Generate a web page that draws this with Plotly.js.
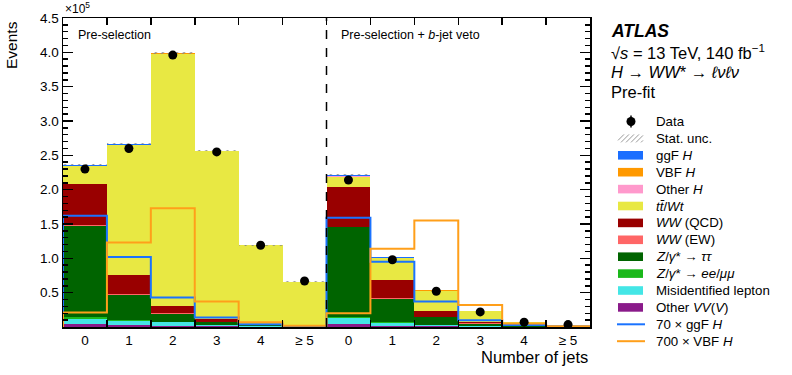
<!DOCTYPE html>
<html>
<head>
<meta charset="utf-8">
<script src="https://cdn.plot.ly/plotly-3.0.1.min.js"></script>
<style>
  body { margin: 0; background: #fff; }
  #grafico { width: 792px; height: 375px; }
</style>
</head>
<body>
<div id="grafico"></div>
<script>
// 12 bins: 0..>=5 jets (Pre-selection), then 0..>=5 jets (+ b-jet veto); values in units of 1e5
const binLabels = ["0", "1", "2", "3", "4", "≥ 5", "0", "1", "2", "3", "4", "≥ 5"];

const otherVV = [0.05, 0.03, 0.02, 0.01, 0.005, 0.002, 0.05, 0.02, 0.01, 0.005, 0.002, 0.001];
const misid   = [0.07, 0.06, 0.05, 0.02, 0.005, 0.002, 0.08, 0.045, 0.02, 0.01, 0.003, 0.001];
const zll     = [0.02, 0.01, 0.01, 0.005, 0.002, 0.001, 0.01, 0.005, 0.005, 0.002, 0.001, 0.0];
const ztt     = [1.33, 0.37, 0.11, 0.035, 0.01, 0.003, 1.31, 0.34, 0.105, 0.033, 0.007, 0.002];
const wwEW    = [0.01, 0.01, 0.01, 0.005, 0.002, 0.001, 0.01, 0.01, 0.005, 0.003, 0.001, 0.0];
const wwQCD   = [0.60, 0.28, 0.11, 0.035, 0.01, 0.004, 0.58, 0.265, 0.095, 0.027, 0.006, 0.002];
const topWt   = [0.26, 1.89, 3.67, 2.455, 1.155, 0.647, 0.15, 0.32, 0.29, 0.147, 0.049, 0.014];
const otherH  = [0.003, 0.003, 0.002, 0.001, 0.0003, 0.0001, 0.003, 0.002, 0.001, 0.0005, 0.0002, 0.0001];
const vbfH    = [0.0003, 0.0018, 0.0025, 0.0005, 0.0001, 0.0, 0.0003, 0.0016, 0.0022, 0.0005, 0.0001, 0.0];
const ggfH    = [0.023, 0.015, 0.006, 0.002, 0.0006, 0.0001, 0.023, 0.0136, 0.0053, 0.0014, 0.0004, 0.0001];
const statUnc = [0.006, 0.007, 0.009, 0.007, 0.005, 0.004, 0.006, 0.004, 0.003, 0.002, 0.001, 0.001];

const data    = [2.30, 2.60, 3.96, 2.55, 1.19, 0.67, 2.14, 0.98, 0.52, 0.22, 0.07, 0.035];
const dataErr = [0.005, 0.005, 0.006, 0.005, 0.003, 0.003, 0.005, 0.003, 0.002, 0.002, 0.001, 0.001];

const ggf70   = [1.62, 1.02, 0.43, 0.14, 0.04, 0.01, 1.59, 0.95, 0.37, 0.10, 0.03, 0.01];
const vbf700  = [0.21, 1.23, 1.73, 0.37, 0.07, 0.02, 0.20, 1.14, 1.55, 0.32, 0.05, 0.01];

// legend rows, top to bottom
const legendItems = [
    { name: "Data", kind: "data", color: "black" },
    { name: "Stat. unc.", kind: "hatch", color: "#999" },
    { name: "ggF <i>H</i>", kind: "box", color: "#1a6eff" },
    { name: "VBF <i>H</i>", kind: "box", color: "#ff9900" },
    { name: "Other <i>H</i>", kind: "box", color: "#ff99cc" },
    { name: "<i>tt̄</i>/<i>Wt</i>", kind: "box", color: "#e8e843" },
    { name: "<i>WW</i> (QCD)", kind: "box", color: "#990000" },
    { name: "<i>WW</i> (EW)", kind: "box", color: "#ff6666" },
    { name: "<i>Z</i>/<i>γ</i>* → <i>ττ</i>", kind: "box", color: "#006400" },
    { name: "<i>Z</i>/<i>γ</i>* → <i>ee</i>/<i>μμ</i>", kind: "box", color: "#1ab81a" },
    { name: "Misidentified lepton", kind: "box", color: "#44e6e6" },
    { name: "Other <i>VV</i>(<i>V</i>)", kind: "box", color: "#8a1a8a" },
    { name: "70 × ggF <i>H</i>", kind: "line", color: "#1a73ff" },
    { name: "700 × VBF <i>H</i>", kind: "line", color: "#ff9f1a" }
];
const colorOf = n => legendItems.find(it => it.name === n).color;

const xs = binLabels.map((_, i) => i);
const font = "Liberation Sans, Arial, sans-serif";

function stackBar(name, y) {
    return {
        type: "bar", x: xs, y: y, name: name,
        marker: { color: colorOf(name), line: { width: 0 } },
        hoverinfo: "skip"
    };
}

// step outline for a histogram: rises from 0 at the left edge, drops to 0 at the right edge
function stepLine(vals, name) {
    const x = [-0.5], y = [0];
    vals.forEach((v, i) => { x.push(i - 0.5); y.push(v); });
    x.push(vals.length - 0.5); y.push(vals[vals.length - 1]);
    x.push(vals.length - 0.5); y.push(0);
    return {
        type: "scatter", mode: "lines", x: x, y: y, name: name,
        line: { color: colorOf(name), width: 2, shape: "hv" }, hoverinfo: "skip"
    };
}

const totals = xs.map(i => otherVV[i] + misid[i] + zll[i] + ztt[i] + wwEW[i] + wwQCD[i] +
    topWt[i] + otherH[i] + vbfH[i] + ggfH[i]);

const traces = [
    stackBar("Other <i>VV</i>(<i>V</i>)", otherVV),
    stackBar("Misidentified lepton", misid),
    stackBar("<i>Z</i>/<i>γ</i>* → <i>ee</i>/<i>μμ</i>", zll),
    stackBar("<i>Z</i>/<i>γ</i>* → <i>ττ</i>", ztt),
    stackBar("<i>WW</i> (EW)", wwEW),
    stackBar("<i>WW</i> (QCD)", wwQCD),
    stackBar("<i>tt̄</i>/<i>Wt</i>", topWt),
    stackBar("Other <i>H</i>", otherH),
    stackBar("VBF <i>H</i>", vbfH),
    stackBar("ggF <i>H</i>", ggfH),
    {
        type: "bar", x: xs, y: statUnc.map(u => 2 * u), base: totals.map((t, i) => t - statUnc[i]),
        name: "Stat. unc.", hoverinfo: "skip",
        marker: { color: "rgba(0,0,0,0)", line: { width: 0 },
                  pattern: { shape: "/", fgcolor: "#888", bgcolor: "rgba(0,0,0,0)", size: 5, solidity: 0.25 } }
    },
    stepLine(ggf70, "70 × ggF <i>H</i>"),
    stepLine(vbf700, "700 × VBF <i>H</i>"),
    {
        type: "scatter", mode: "markers", x: xs, y: data, name: "Data",
        marker: { color: "black", size: 9 },
        error_y: { type: "data", array: dataErr, color: "black", thickness: 1.5, width: 0 },
        hoverinfo: "skip"
    }
];

// page pixel -> paper coords (plot area is 63..590 x 18..327)
const px = v => (v - 63) / 527;
const py = v => (327 - v) / 309;

const shapes = [
    { type: "line", xref: "x", yref: "paper", x0: 5.5, x1: 5.5, y0: 0, y1: 1,
      line: { color: "black", width: 1.5, dash: "dash" }, layer: "above" }
];
const annotations = [
    { xref: "paper", yref: "paper", x: 0, y: 1.0, xanchor: "left", yanchor: "bottom",
      text: "×10<sup>5</sup>", showarrow: false, font: { size: 12 } },
    { xref: "paper", yref: "paper", x: px(12), y: py(19), xanchor: "center", yanchor: "top",
      text: "Events", textangle: -90, showarrow: false, font: { size: 15.5 } },
    { xref: "paper", yref: "paper", x: 1.0, y: py(357), xanchor: "right", yanchor: "middle",
      text: "Number of jets", showarrow: false, font: { size: 16.5 } },
    { xref: "paper", yref: "paper", x: px(76), y: py(35), xanchor: "left", yanchor: "middle",
      text: "Pre-selection", showarrow: false, font: { size: 12.5 } },
    { xref: "paper", yref: "paper", x: px(339), y: py(35), xanchor: "left", yanchor: "middle",
      text: "Pre-selection + <i>b</i>-jet veto", showarrow: false, font: { size: 12.5 } },
    { xref: "paper", yref: "paper", x: px(609), y: py(31), xanchor: "left", yanchor: "middle",
      text: "<b><i>ATLAS</i></b>", showarrow: false, font: { size: 17.5 } },
    { xref: "paper", yref: "paper", x: px(609), y: py(52), xanchor: "left", yanchor: "middle",
      text: "√<i>s</i> = 13 TeV, 140 fb<sup>−1</sup>", showarrow: false, font: { size: 16.5 } },
    { xref: "paper", yref: "paper", x: px(609), y: py(72), xanchor: "left", yanchor: "middle",
      text: "<i>H</i> → <i>WW</i>* → <i>ℓνℓν</i>", showarrow: false, font: { size: 16.5 } },
    { xref: "paper", yref: "paper", x: px(609), y: py(92), xanchor: "left", yanchor: "middle",
      text: "Pre-fit", showarrow: false, font: { size: 16.5 } }
];

// hand-built legend: 14 rows, ~16.9 px apart
legendItems.forEach((it, i) => {
    const yc = 121.5 + 16.9 * i;
    annotations.push({ xref: "paper", yref: "paper", x: px(654), y: py(yc), xanchor: "left", yanchor: "middle",
        text: it.name, showarrow: false, font: { size: 13.3 } });
    if (it.kind === "box") {
        shapes.push({ type: "rect", xref: "paper", yref: "paper", x0: px(618), x1: px(643),
            y0: py(yc - 4.3), y1: py(yc + 4.3), fillcolor: it.color, line: { width: 0 } });
    } else if (it.kind === "line") {
        shapes.push({ type: "line", xref: "paper", yref: "paper", x0: px(617), x1: px(645),
            y0: py(yc), y1: py(yc), line: { color: it.color, width: 2 } });
    } else if (it.kind === "hatch") {
        for (let k = 0; k < 6; k++) {
            const x0 = 616 + k * 5;
            shapes.push({ type: "line", xref: "paper", yref: "paper",
                x0: px(Math.max(x0, 618)), x1: px(Math.min(x0 + 8, 643)),
                y0: py(yc + 4 - (Math.max(x0, 618) - x0) ), y1: py(yc - 4 + (x0 + 8 - Math.min(x0 + 8, 643))),
                line: { color: it.color, width: 1 } });
        }
    } else if (it.kind === "data") {
        shapes.push({ type: "line", xref: "paper", yref: "paper", x0: px(631), x1: px(631),
            y0: py(yc - 6), y1: py(yc + 6), line: { color: "black", width: 1.5 } });
        shapes.push({ type: "circle", xref: "paper", yref: "paper", x0: px(626.5), x1: px(635.5),
            y0: py(yc - 4.5), y1: py(yc + 4.5), fillcolor: "black", line: { width: 0 } });
    }
});

const axisLine = { showline: true, linecolor: "black", linewidth: 1.5, mirror: "ticks", zeroline: false, showgrid: false };

const layout = {
    width: 792, height: 375,
    margin: { l: 63, r: 202, t: 18, b: 48 },
    paper_bgcolor: "white", plot_bgcolor: "white",
    font: { family: font, color: "black", size: 13 },
    barmode: "stack", bargap: 0,
    showlegend: false,
    xaxis: Object.assign({}, axisLine, {
        range: [-0.5, 11.5],
        tickmode: "array", tickvals: xs, ticktext: binLabels,
        ticks: "inside", ticklen: 0, tickfont: { size: 13.5 },
        minor: { tickmode: "linear", tick0: -0.5, dtick: 1, ticks: "inside", ticklen: 7, tickwidth: 1.5, tickcolor: "black" }
    }),
    yaxis: Object.assign({}, axisLine, {
        range: [0, 4.5],
        tickmode: "array", tickvals: [0.5, 1, 1.5, 2, 2.5, 3, 3.5, 4, 4.5],
        tickformat: ".1f", tickfont: { size: 13.5 },
        ticks: "inside", ticklen: 10, tickwidth: 1.5, tickcolor: "black",
        minor: { tickmode: "linear", tick0: 0, dtick: 0.1, ticks: "inside", ticklen: 5, tickwidth: 1.5, tickcolor: "black" }
    }),
    shapes: shapes,
    annotations: annotations
};

Plotly.newPlot("grafico", traces, layout, { staticPlot: true, displayModeBar: false });
</script>
</body>
</html>
